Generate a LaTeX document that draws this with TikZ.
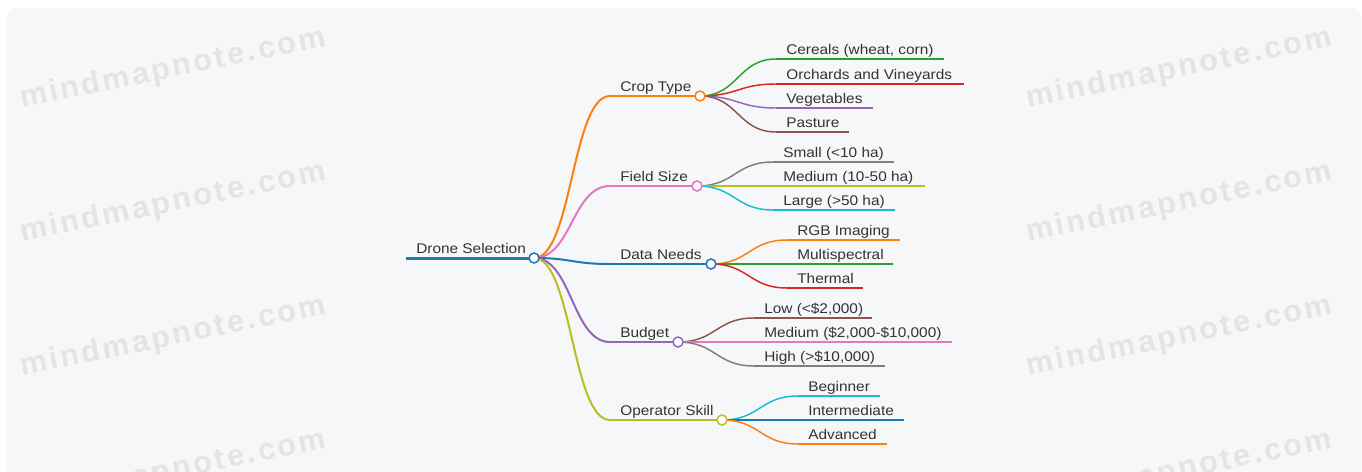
\documentclass[tikz,border=0pt]{standalone}
\usepackage{fontspec}
\setmainfont{Liberation Sans}[FakeStretch=1.1]
\newfontfamily\wmfont{Liberation Sans}[LetterSpace=9]
\usetikzlibrary{calc}
\pgfdeclarelayer{back}
\pgfdeclarelayer{edges}
\pgfsetlayers{back,edges,main}
\definecolor{cblue}{HTML}{1F77B4}
\definecolor{corange}{HTML}{FF7F0E}
\definecolor{cgreen}{HTML}{2CA02C}
\definecolor{cred}{HTML}{D62728}
\definecolor{cpurple}{HTML}{9467BD}
\definecolor{cbrown}{HTML}{8C564B}
\definecolor{cpink}{HTML}{E377C2}
\definecolor{cgray}{HTML}{7F7F7F}
\definecolor{colive}{HTML}{BCBD22}
\definecolor{ccyan}{HTML}{17BECF}
\definecolor{bgpanel}{RGB}{246,247,249}
\definecolor{wmcol}{RGB}{227,228,230}
\definecolor{txt}{HTML}{333333}
\newcommand\mmlink[3]{\draw[#3] (#1.center) to[link] (#2);}
\begin{document}
\begin{tikzpicture}[x=0.75pt,y=-0.75pt,
  lbl/.style={anchor=base west,inner sep=0pt,text=txt,font=\fontsize{10.5pt}{12pt}\selectfont},
  dot/.style={circle,draw=#1,fill=white,line width=1.125pt,minimum size=7.5pt,inner sep=0pt},
  wm/.style={anchor=base west,inner sep=0pt,text=wmcol,rotate=11.5,font=\wmfont\bfseries\fontsize{23pt}{23pt}\selectfont},
  link/.style={to path={let \p1=(\tikztostart), \p2=(\tikztotarget) in .. controls ({(\x1+\x2)/2},\y1) and ({(\x1+\x2)/2},\y2) .. (\tikztotarget)}},
  mainedge/.style={line width=1.5pt,draw=#1},
  leafedge/.style={line width=1.1pt,draw=#1},
  uline/.style={line width=1.5pt,draw=#1},
  rootline/.style={line width=2.25pt,draw=#1}]
\useasboundingbox (0,0) rectangle (1362,471);
\clip (0,0) rectangle (1362,471);
\begin{pgfonlayer}{back}
\fill[white] (0,0) rectangle (1362,471);
\fill[bgpanel,rounded corners=6pt] (7,8) rectangle (1361,500);
\foreach \yy [count=\i] in {108,242,376,510}{
  \node[wm] (wl\i) at (22,\yy) {mindmapnote.com};
  \node[wm] (wr\i) at (1028,\yy) {mindmapnote.com};
}
\end{pgfonlayer}

% root
\coordinate (r0) at (406,258);
\node[dot=cblue] (rc) at (534,258) {};
\node[lbl] (troot) at (416,253) {Drone Selection};

% level 1
\coordinate (s-crop) at (610,96);
\node[dot=corange] (c-crop) at (700,96) {};
\node[lbl] (t-crop) at (620,91) {Crop Type};
\coordinate (s-field) at (610,186);
\node[dot=cpink] (c-field) at (697,186) {};
\node[lbl] (t-field) at (620,181) {Field Size};
\coordinate (s-data) at (610,264);
\node[dot=cblue] (c-data) at (711,264) {};
\node[lbl] (t-data) at (620,259) {Data Needs};
\coordinate (s-budget) at (610,342);
\node[dot=cpurple] (c-budget) at (678,342) {};
\node[lbl] (t-budget) at (620,337) {Budget};
\coordinate (s-skill) at (610,420);
\node[dot=colive] (c-skill) at (722,420) {};
\node[lbl] (t-skill) at (620,415) {Operator Skill};

% leaves: crop
\coordinate (s-l1) at (776,59);  \coordinate (e-l1) at (944,59);  \node[lbl] (t-l1) at (786,54) {Cereals (wheat, corn)};
\coordinate (s-l2) at (776,84);  \coordinate (e-l2) at (964,84);  \node[lbl] (t-l2) at (786,79) {Orchards and Vineyards};
\coordinate (s-l3) at (776,108); \coordinate (e-l3) at (873,108); \node[lbl] (t-l3) at (786,103) {Vegetables};
\coordinate (s-l4) at (776,132); \coordinate (e-l4) at (849,132); \node[lbl] (t-l4) at (786,127) {Pasture};
% field
\coordinate (s-l5) at (773,162); \coordinate (e-l5) at (894,162); \node[lbl] (t-l5) at (783,157) {Small (<10 ha)};
\coordinate (s-l6) at (773,186); \coordinate (e-l6) at (925,186); \node[lbl] (t-l6) at (783,181) {Medium (10-50 ha)};
\coordinate (s-l7) at (773,210); \coordinate (e-l7) at (895,210); \node[lbl] (t-l7) at (783,205) {Large (>50 ha)};
% data
\coordinate (s-l8) at (787,240);  \coordinate (e-l8) at (900,240);  \node[lbl] (t-l8) at (797,235) {RGB Imaging};
\coordinate (s-l9) at (787,264);  \coordinate (e-l9) at (893,264);  \node[lbl] (t-l9) at (797,259) {Multispectral};
\coordinate (s-l10) at (787,288); \coordinate (e-l10) at (863,288); \node[lbl] (t-l10) at (797,283) {Thermal};
% budget
\coordinate (s-l11) at (754,318); \coordinate (e-l11) at (872,318); \node[lbl] (t-l11) at (764,313) {Low (<\$2,000)};
\coordinate (s-l12) at (754,342); \coordinate (e-l12) at (952,342); \node[lbl] (t-l12) at (764,337) {Medium (\$2,000-\$10,000)};
\coordinate (s-l13) at (754,366); \coordinate (e-l13) at (885,366); \node[lbl] (t-l13) at (764,361) {High (>\$10,000)};
% skill
\coordinate (s-l14) at (798,396); \coordinate (e-l14) at (880,396); \node[lbl] (t-l14) at (808,391) {Beginner};
\coordinate (s-l15) at (798,420); \coordinate (e-l15) at (904,420); \node[lbl] (t-l15) at (808,415) {Intermediate};
\coordinate (s-l16) at (798,444); \coordinate (e-l16) at (887,444); \node[lbl] (t-l16) at (808,439) {Advanced};

\begin{pgfonlayer}{edges}
\draw[rootline=cblue] (r0) -- (rc.center);
% root to level 1
\mmlink{rc}{s-crop}{mainedge=corange}
\mmlink{rc}{s-field}{mainedge=cpink}
\mmlink{rc}{s-data}{mainedge=cblue}
\mmlink{rc}{s-budget}{mainedge=cpurple}
\mmlink{rc}{s-skill}{mainedge=colive}
\draw[uline=corange] (s-crop) -- (c-crop.center);
\draw[uline=cpink] (s-field) -- (c-field.center);
\draw[uline=cblue] (s-data) -- (c-data.center);
\draw[uline=cpurple] (s-budget) -- (c-budget.center);
\draw[uline=colive] (s-skill) -- (c-skill.center);
% level 1 to leaves
\foreach \p/\l/\c in {crop/l1/cgreen,crop/l2/cred,crop/l3/cpurple,crop/l4/cbrown,
  field/l5/cgray,field/l6/colive,field/l7/ccyan,
  data/l8/corange,data/l9/cgreen,data/l10/cred,
  budget/l11/cbrown,budget/l12/cpink,budget/l13/cgray,
  skill/l14/ccyan,skill/l15/cblue,skill/l16/corange}{
  \mmlink{c-\p}{s-\l}{leafedge=\c}
  \draw[uline=\c] (s-\l) -- (e-\l);
}
\end{pgfonlayer}
\end{tikzpicture}
\end{document}
